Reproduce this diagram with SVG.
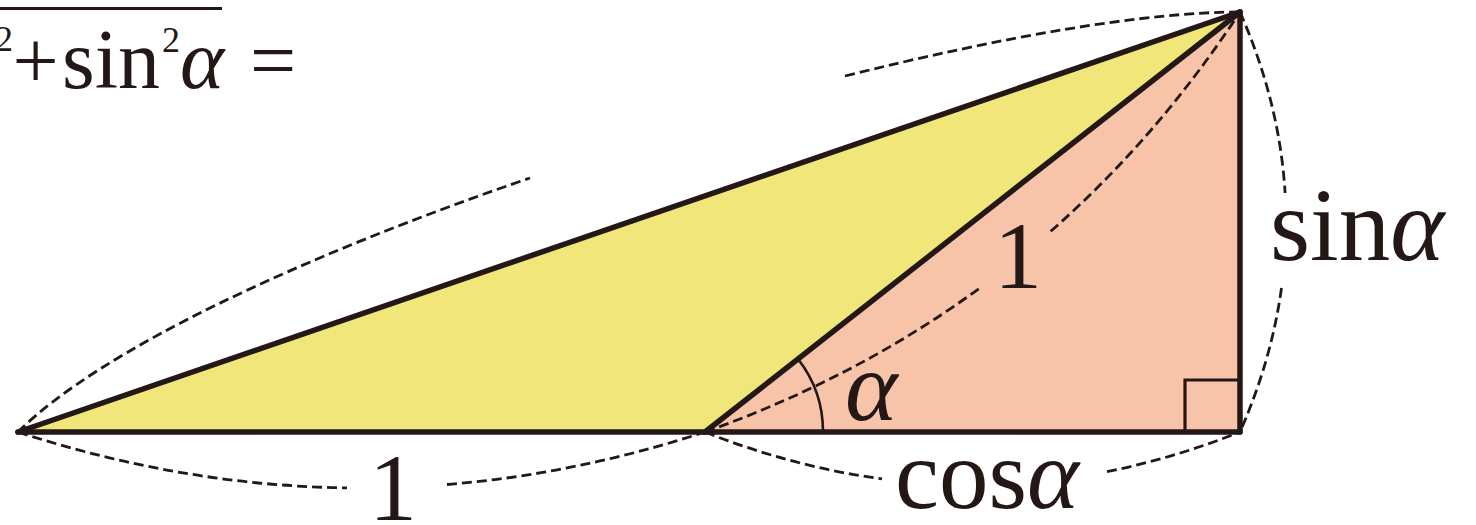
<svg xmlns="http://www.w3.org/2000/svg" width="1476" height="525" viewBox="0 0 1476 525">
<style>
.edge{fill:none;stroke:#231815;stroke-width:5.5;stroke-linecap:round;stroke-linejoin:round}
.thin{fill:none;stroke:#231815;stroke-width:3.2}
.arcm{fill:none;stroke:#231815;stroke-width:2.6}
.dash{fill:none;stroke:#231815;stroke-width:2.8;stroke-dasharray:10 5}
.t{font-family:"Liberation Serif","Times New Roman",serif;fill:#231815}
.it{font-style:italic}
</style>
<rect width="1476" height="525" fill="#ffffff"/>
<g id="formula">
<line x1="0" y1="8.5" x2="222" y2="8.5" stroke="#231815" stroke-width="3"/>
<text class="t" x="-5" y="51" font-size="36">2</text>
<text class="t" x="12.5" y="88" font-size="82">+</text>
<text class="t" x="62" y="88" font-size="84">sin</text>
<text class="t" x="162" y="52" font-size="36">2</text>
<text class="t it" x="180" y="88" font-size="84">α</text>
<text class="t" x="250" y="88" font-size="82">=</text>
</g>
<g id="triangle-yellow">
<polygon points="18,432 705,432 1240,12" fill="#F0E67A"/>
</g>
<g id="triangle-salmon">
<polygon points="705,432 1240,432 1240,12" fill="#F7C4AA"/>
</g>
<g id="right-angle">
<polyline class="thin" points="1185,432 1185,380 1240,380"/>
</g>
<g id="angle-mark">
<path class="arcm" d="M823,432 A118,118 0 0 0 798,359"/>
</g>
<g id="edges">
<line class="edge" x1="18" y1="432" x2="1240" y2="432"/>
<line class="edge" x1="18" y1="432" x2="1240" y2="12"/>
<line class="edge" x1="705" y1="432" x2="1240" y2="12"/>
<line class="edge" x1="1240" y1="432" x2="1240" y2="12"/>
</g>
<g id="connectors">
<path class="dash" d="M18,432 C100,350 302,256 530,178"/>
<path class="dash" d="M845,76 C1002.4,36.9 1144,12 1240,12"/>
<path class="dash" d="M18,432 Q182.3,485.6 347,487.9"/>
<path class="dash" d="M447,484.5 Q575.8,474.1 705,432"/>
<path class="dash" d="M705,432 Q793.5,467.1 882,478.9"/>
<path class="dash" d="M1107,471.6 Q1173.4,458.4 1240,432"/>
<path class="dash" d="M1240,12 Q1279.7,102.5 1285.1,193"/>
<path class="dash" d="M1281.5,288 Q1271.6,360 1240,432"/>
<path class="dash" d="M705,432 Q857.8,377.6 981.7,286.6"/>
<path class="dash" d="M1050.7,231.3 Q1157.7,137.3 1240,12"/>
</g>
<g id="label-alpha"><text class="t it" x="845" y="420" font-size="100">α</text></g>
<g id="label-hyp"><text class="t" x="1018" y="288" font-size="96" text-anchor="middle">1</text></g>
<g id="label-base"><text class="t" x="393" y="520" font-size="96" text-anchor="middle">1</text></g>
<g id="label-cos"><text class="t" x="895" y="508" font-size="99">cos<tspan class="it">α</tspan></text></g>
<g id="label-sin"><text class="t" x="1270" y="260" font-size="103">sin<tspan class="it">α</tspan></text></g>
</svg>
